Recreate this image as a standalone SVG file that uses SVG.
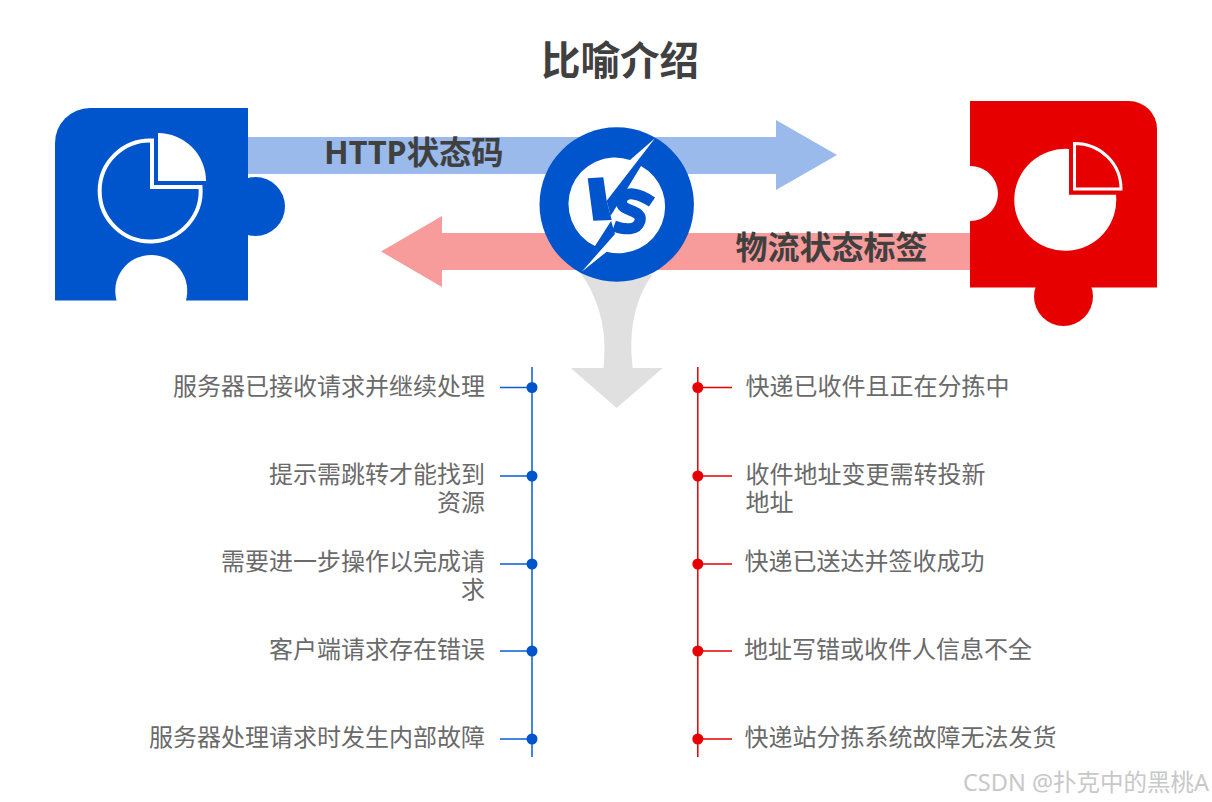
<svg xmlns="http://www.w3.org/2000/svg" width="1212" height="802" viewBox="0 0 1212 802">
<style>
text{font-family:"Noto Sans","Noto Sans CJK SC","Liberation Sans",sans-serif}
.t{font-size:24px;fill:#6a6a6a}
.e{text-anchor:end}
.h{font-weight:700;fill:#404040}
.b{fill:#0055cc}
.r{fill:#e60000}
.bl{stroke:#0a5cd8;stroke-width:1.500;fill:none}
.rl{stroke:#e60000;stroke-width:1.500;fill:none}
</style>
<rect width="1212" height="802" fill="#fff"/>
<text id="title" x="620" y="75" text-anchor="middle" font-size="39.500" font-weight="700" fill="#404040">比喻介绍</text>
<g id="connectors">
<path id="arrow-blue" d="M248,137H776V120L837,155L776,190V174H248Z" fill="#9abaeb"/>
<path id="arrow-red" d="M970,233H442V216L381,251.500L442,287V270H970Z" fill="#f79b9b"/>
<path id="arrow-down" d="M580,272C598,298 608,328 603.500,368H570.700L616.700,408L662.700,368H632.700C628,328 636,298 652,275Z" fill="#e0e0e0"/>
<g id="timeline-blue">
<path class="bl" d="M532,367V757M500,387.500H532M500,476H532M500,564H532M500,651H532M500,739H532"/>
<circle class="b" cx="532" cy="387.500" r="5.500"/><circle class="b" cx="532" cy="476" r="5.500"/><circle class="b" cx="532" cy="564" r="5.500"/><circle class="b" cx="532" cy="651" r="5.500"/><circle class="b" cx="532" cy="739" r="5.500"/>
</g>
<g id="timeline-red">
<path class="rl" d="M697.800,367V757M698,387.500H732M698,476H732M698,564H732M698,651H732M698,739H732"/>
<circle class="r" cx="697.800" cy="387.500" r="5.500"/><circle class="r" cx="697.800" cy="476" r="5.500"/><circle class="r" cx="697.800" cy="564" r="5.500"/><circle class="r" cx="697.800" cy="651" r="5.500"/><circle class="r" cx="697.800" cy="739" r="5.500"/>
</g>
</g>
<g id="node-blue">
<path class="b" d="M90,108H248V300.500H55V143A35,35 0 0 1 90,108Z"/>
<circle class="b" cx="255.500" cy="206.500" r="29.500"/>
<path d="M117,302A36,36 0 1 1 185.500,302Z" fill="#fff"/>
<path d="M152,140.500A50.500,50.500 0 1 0 200.500,187H152Z" fill="none" stroke="#fff" stroke-width="4"/>
<path d="M158,133A48,48 0 0 1 206,181H158Z" fill="#fff"/>
</g>
<g id="node-red">
<path class="r" d="M970,101H1129A28,28 0 0 1 1157,129V287.500H970Z"/>
<circle class="r" cx="1063.500" cy="296.500" r="29.500"/>
<path d="M970,166A28,27.500 0 0 1 970,221Z" fill="#fff"/>
<path d="M1069,149A51,51 0 1 0 1116,194.700H1069Z" fill="#fff"/>
<path d="M1074.500,143.500A46,46 0 0 1 1121,189H1074.500Z" fill="none" stroke="#fff" stroke-width="3"/>
</g>
<g id="node-vs">
<circle class="b" cx="616.700" cy="204.500" r="77.200"/>
<path d="M655,138.300L630,160A46.500,46.500 0 0 0 595,246L611.700,220L606.700,200.700Z" fill="#fff"/>
<path d="M641,166A46.500,46.500 0 0 1 606.700,251.700L581.700,271.700L615,234L610,217Z" fill="#fff"/>
<path class="b" d="M587.700,178.300L603.300,177.300L606.700,200.700L611.700,220L593.300,220.700Z"/>
<path d="M652,202C640,194 624,189 621.500,201C619.500,212 643,209 640,221C637,231 625,230 614,226" fill="none" stroke="#0055cc" stroke-width="11"/>
</g>
<text id="label-http" class="h" x="324" y="164" font-size="32.300">HTTP状态码</text>
<text id="label-wuliu" class="h" x="735.500" y="259" font-size="32">物流状态标签</text>
<g id="labels-left">
<text class="t e" x="485" y="395">服务器已接收请求并继续处理</text>
<text class="t e" x="485" y="483">提示需跳转才能找到</text>
<text class="t e" x="485" y="511">资源</text>
<text class="t e" x="485" y="570">需要进一步操作以完成请</text>
<text class="t e" x="485" y="598">求</text>
<text class="t e" x="485" y="658">客户端请求存在错误</text>
<text class="t e" x="485" y="746">服务器处理请求时发生内部故障</text>
</g>
<g id="labels-right">
<text class="t" x="745.500" y="395">快递已收件且正在分拣中</text>
<text class="t" x="745.500" y="483">收件地址变更需转投新</text>
<text class="t" x="745.500" y="511">地址</text>
<text class="t" x="744.500" y="570">快递已送达并签收成功</text>
<text class="t" x="744" y="658">地址写错或收件人信息不全</text>
<text class="t" x="744.500" y="746">快递站分拣系统故障无法发货</text>
</g>
<text id="watermark" x="963" y="791" font-size="23.500" fill="#c8c8c8">CSDN @扑克中的黑桃A</text>
</svg>
